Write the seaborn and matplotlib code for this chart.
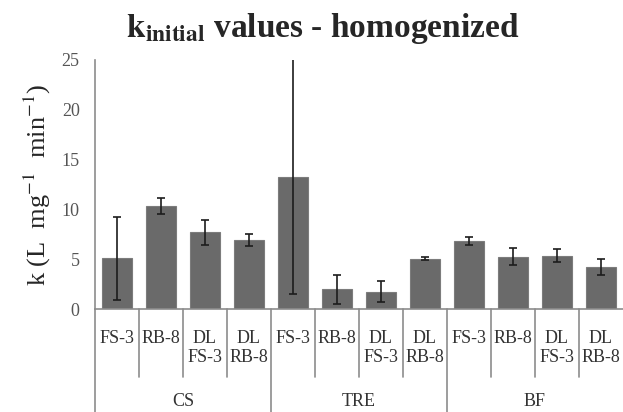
import numpy as np
import pandas as pd
import matplotlib
matplotlib.use("Agg")
import matplotlib.pyplot as plt
import matplotlib.transforms as mtransforms
import seaborn as sns

# Initial rate constants (homogenized samples)
groups = ["CS", "TRE", "BF"]
treatments = ["FS-3", "RB-8", "DL\nFS-3", "DL\nRB-8"]
k_cs = [5.1, 10.35, 7.7, 6.95]
k_tre = [13.3, 2.0, 1.75, 5.05]
k_bf = [6.85, 5.25, 5.35, 4.25]
err_cs = [4.15, 0.78, 1.25, 0.6]
err_tre = [11.75, 1.45, 1.05, 0.15]
err_bf = [0.4, 0.85, 0.65, 0.8]

values = k_cs + k_tre + k_bf
errors = err_cs + err_tre + err_bf
labels = treatments * len(groups)
keys = [f"{g} {t}" for g in groups for t in treatments]
df = pd.DataFrame({"key": keys, "k": values})

sns.set_style("white")
plt.rcParams["font.family"] = ["Liberation Serif", "DejaVu Serif"]
plt.rcParams["mathtext.fontset"] = "stix"

fig = plt.figure(figsize=(6.23, 4.12), dpi=100)
ax = fig.add_axes([0.1525, 0.25, 0.8475, 0.6044])

sns.barplot(data=df, x="key", y="k", order=keys, color="#6a6a6a",
            width=0.68, saturation=1, edgecolor="#7c7c7c", linewidth=0.8,
            errorbar=None, ax=ax)
ax.errorbar(np.arange(len(keys)), values, yerr=errors, fmt="none",
            ecolor="#1c1c1c", elinewidth=1.2, capsize=2.6, capthick=1.2)

ax.set_xlim(-0.5, len(keys) - 0.5)
ax.set_ylim(0, 25)
ax.set_yticks([0, 5, 10, 15, 20, 25])
ax.tick_params(axis="y", direction="out", length=5, width=1.0,
               color="#8c8c8c", labelcolor="#555555", labelsize=13, pad=6)
ax.set_xticks([])
ax.set_xlabel("")
for s in ["top", "right"]:
    ax.spines[s].set_visible(False)
for s in ["left", "bottom"]:
    ax.spines[s].set_color("#8c8c8c")
    ax.spines[s].set_linewidth(1.2)

ax.set_ylabel(r"k (L  mg$^{-1}$  min$^{-1}$)", fontsize=19, labelpad=6)

# category axis drawn below the bars: labels and separators
trans = mtransforms.blended_transform_factory(ax.transData, ax.transAxes)
for i, lab in enumerate(labels):
    ax.text(i, -0.085, lab, transform=trans, ha="center", va="top",
            fontsize=13, color="#333333", linespacing=1.12)
for b in range(1, len(keys)):
    bottom = -0.6 if b % len(treatments) == 0 else -0.273
    ax.plot([b - 0.5, b - 0.5], [0, bottom], transform=trans, color="#8c8c8c",
            lw=1.2, clip_on=False)
ax.plot([-0.5, -0.5], [0, -0.6], transform=trans, color="#8c8c8c",
        lw=1.2, clip_on=False)
for gi, g in enumerate(groups):
    ax.text(gi * len(treatments) + 1.5, -0.372, g, transform=trans,
            ha="center", va="center", fontsize=13, color="#333333")

fig.text(0.518, 0.93, r"$\mathbf{k_{initial}}$ values - homogenized",
         ha="center", va="center", fontsize=24, fontweight="bold")

fig.savefig("out.png", dpi=100)
